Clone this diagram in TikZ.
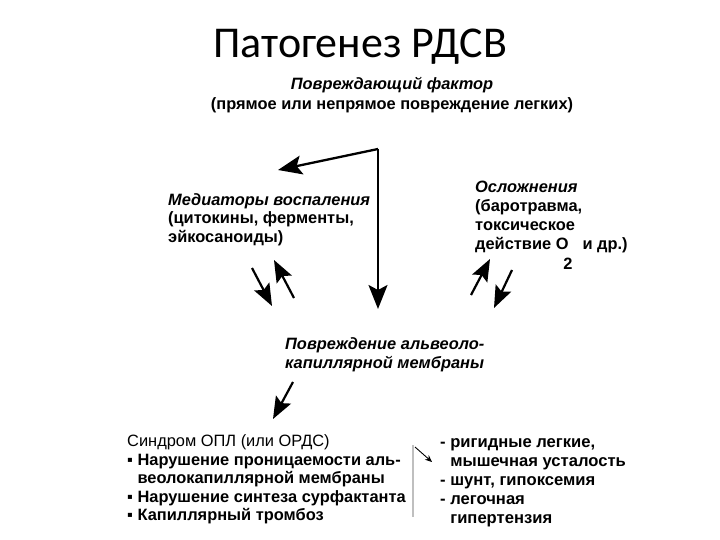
\documentclass[tikz,border=0pt]{standalone}
\usepackage{fontspec}
\setmainfont{Liberation Sans}
\newfontfamily\titlefont{Carlito}
\usetikzlibrary{arrows.meta}
\begin{document}
\begin{tikzpicture}[x=1pt,y=-1pt,
  txt/.style={inner sep=0pt,align=left,font=\fontsize{16.4}{18.5}\selectfont\bfseries},
  bigarrow/.style={line width=2.3pt,-{Stealth[length=24pt,width=19pt,inset=5pt]}},
  smallarrow/.style={line width=2.2pt,-{Stealth[length=22pt,width=17pt,inset=4pt]}},
  tinyarrow/.style={line width=0.9pt,-{Stealth[length=7pt,width=6pt]}}]
\useasboundingbox (0,0) rectangle (720,540);
\fill[white] (0,0) rectangle (720,540);
% title
\node[inner sep=0pt,anchor=base] (title) at (360,58) {\titlefont\fontsize{44}{50}\selectfont Патогенез РДСВ};
% damaging factor (base = last line)
\node[txt,anchor=base,align=center,font=\fontsize{16.4}{20}\selectfont\bfseries] (factor) at (392,109.5)
  {\itshape Повреждающий фактор\\(прямое или непрямое повреждение легких)};
% mediators
\node[txt,anchor=base west] (med) at (168,242.5)
  {\itshape Медиаторы воспаления\\(цитокины, ферменты,\\эйкосаноиды)};
% complications
\node[txt,anchor=base west,font=\fontsize{16.4}{19}\selectfont\bfseries] (compl) at (475,249.5)
  {\itshape Осложнения\\(баротравма,\\токсическое\\действие О\hspace{14pt}и др.)};
\node[txt,anchor=base] (sub2) at (568,269.5) {2};
% membrane
\node[txt,anchor=base west,font=\fontsize{16.4}{19}\selectfont\bfseries] (memb) at (285,368.5)
  {\itshape Повреждение альвеоло-\\\itshape капиллярной мембраны};
% syndrome
\node[txt,anchor=base west] (synd) at (127,520.5)
  {\mdseries Синдром ОПЛ (или ОРДС)\\
   ▪ Нарушение проницаемости аль-\\
   \phantom{▪ }веолокапиллярной мембраны\\
   ▪ Нарушение синтеза сурфактанта\\
   ▪ Капиллярный тромбоз};
% effects
\node[txt,anchor=base west,font=\fontsize{16.6}{18.8}\selectfont\bfseries] (eff) at (440,523)
  {- ригидные легкие,\\
   \phantom{- }мышечная усталость\\
   - шунт, гипоксемия\\
   - легочная\\
   \phantom{- }гипертензия};
% coordinates
\coordinate (corner) at (378,149);
\coordinate (medtip) at (278,170);
\coordinate (membtop) at (378,309);
\coordinate (a1s) at (252,268); \coordinate (a1e) at (272,306);
\coordinate (a2s) at (294,298); \coordinate (a2e) at (274,260);
\coordinate (a3s) at (471,295); \coordinate (a3e) at (490,259);
\coordinate (a4s) at (512,270); \coordinate (a4e) at (494,308);
\coordinate (a5s) at (293,382); \coordinate (a5e) at (273,419);
\coordinate (gtop) at (413,445); \coordinate (gbot) at (413,517);
\coordinate (a6s) at (415,447); \coordinate (a6e) at (432,462);
% connectors
\draw[bigarrow] (corner) -- (medtip);
\draw[bigarrow] (corner) -- (membtop);
\draw[smallarrow] (a1s) -- (a1e);
\draw[smallarrow] (a2s) -- (a2e);
\draw[smallarrow] (a3s) -- (a3e);
\draw[smallarrow] (a4s) -- (a4e);
\draw[smallarrow] (a5s) -- (a5e);
\draw[line width=1.5pt,black!25] (gtop) -- (gbot);
\draw[tinyarrow] (a6s) -- (a6e);
\end{tikzpicture}
\end{document}
